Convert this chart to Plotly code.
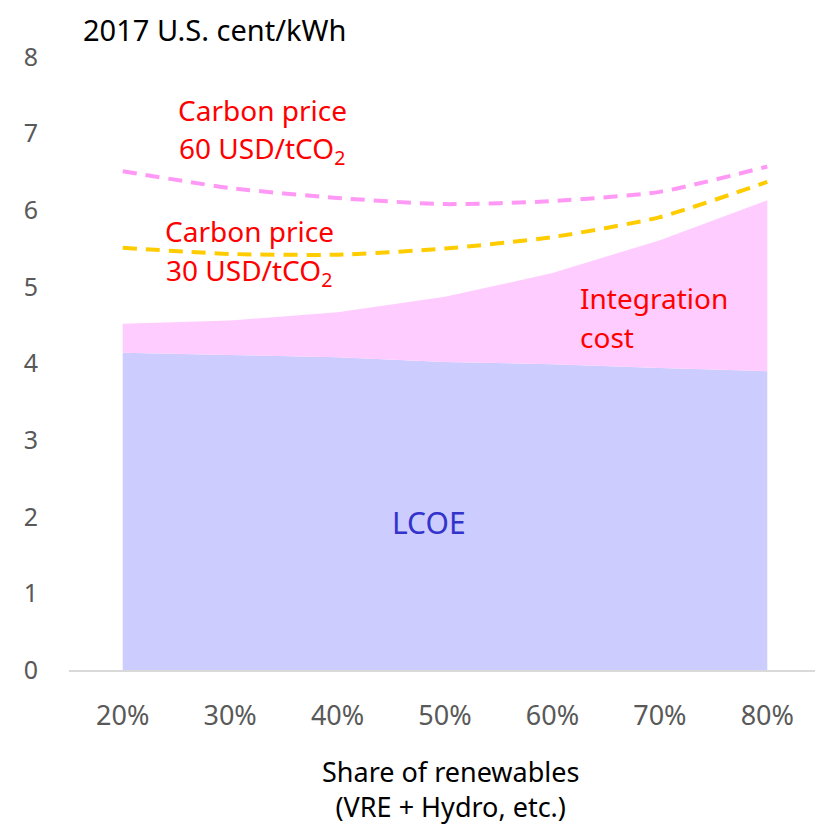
import plotly.graph_objects as go

shares = ["20%", "30%", "40%", "50%", "60%", "70%", "80%"]
lcoe = [4.14, 4.11, 4.08, 4.02, 3.99, 3.94, 3.90]
integration = [0.38, 0.45, 0.59, 0.85, 1.19, 1.67, 2.23]
carbon30 = [5.51, 5.43, 5.42, 5.50, 5.65, 5.91, 6.37]
carbon60 = [6.51, 6.29, 6.16, 6.08, 6.12, 6.24, 6.57]

FONT = "Noto Sans"
OFF = 8  # browser default body margin

fig = go.Figure()
fig.add_trace(go.Scatter(x=shares, y=lcoe, stackgroup="s", mode="none",
                         fillcolor="#CCCCFF", name="LCOE", hoverinfo="skip"))
fig.add_trace(go.Scatter(x=shares, y=integration, stackgroup="s", mode="none",
                         fillcolor="#FFCCFF", name="Integration cost", hoverinfo="skip"))
fig.add_trace(go.Scatter(x=shares, y=carbon30, mode="lines",
                         line=dict(color="#FFCC00", width=4, dash="14px,9px", shape="spline", smoothing=0.6),
                         name="30"))
fig.add_trace(go.Scatter(x=shares, y=carbon60, mode="lines",
                         line=dict(color="#FF99F5", width=4, dash="14px,9px", shape="spline", smoothing=0.6),
                         name="60"))

red = "#FF0000"
# (x, y) target pixel positions in the 823x825 window
anns = [
    dict(x=262, y=110, text="Carbon price", color=red, xanchor="center", size=28),
    dict(x=262, y=150, text="60 USD/tCO<sub>2</sub>", color=red, xanchor="center", size=28),
    dict(x=249, y=231, text="Carbon price", color=red, xanchor="center", size=28),
    dict(x=249, y=272, text="30 USD/tCO<sub>2</sub>", color=red, xanchor="center", size=28),
    dict(x=578, y=298, text="Integration", color=red, xanchor="left", size=28),
    dict(x=578, y=337, text="cost", color=red, xanchor="left", size=28),
    dict(x=429, y=522, text="LCOE", color="#3333CC", xanchor="center", size=30),
    dict(x=450, y=789, text="Share of renewables<br>(VRE + Hydro, etc.)", color="#000000",
         xanchor="center", size=27),
]
W, H = 823 - OFF, 825 - OFF
L = 69 - OFF
T = 57 - OFF
R = W - (821 - OFF)
B = H - (670 - OFF)
annotations = []
for a in anns:
    annotations.append(dict(
        xref="paper", yref="paper",
        x=(a["x"] - OFF - L) / (W - L - R), y=1 - (a["y"] - OFF - T) / (H - T - B),
        xanchor=a["xanchor"], yanchor="middle", showarrow=False,
        text=a["text"], font=dict(family=FONT, size=a["size"], color=a["color"])))
# title at the very top of the figure
annotations.append(dict(
    xref="paper", yref="paper",
    x=(81 - OFF - L) / (W - L - R), y=1 + T / (H - T - B),
    xanchor="left", yanchor="top", showarrow=False,
    text="2017 U.S. cent/kWh", font=dict(family=FONT, size=29, color="#000000")))

fig.update_layout(
    width=W, height=H, margin=dict(l=L, r=R, t=T, b=B),
    plot_bgcolor="white", paper_bgcolor="white", showlegend=False,
    annotations=annotations,
    xaxis=dict(type="category", range=[-0.5, 6.5], showgrid=False, zeroline=False,
               showline=True, linecolor="#D9D9D9", linewidth=2, ticks="",
               tickfont=dict(family=FONT, size=27, color="#595959"), ticklabelstandoff=21),
    yaxis=dict(range=[0, 8], dtick=1, showgrid=False, zeroline=False, showline=False,
               ticks="", tickfont=dict(family=FONT, size=25, color="#595959"),
               ticklabelstandoff=30),
)
fig.write_html("out.html")
